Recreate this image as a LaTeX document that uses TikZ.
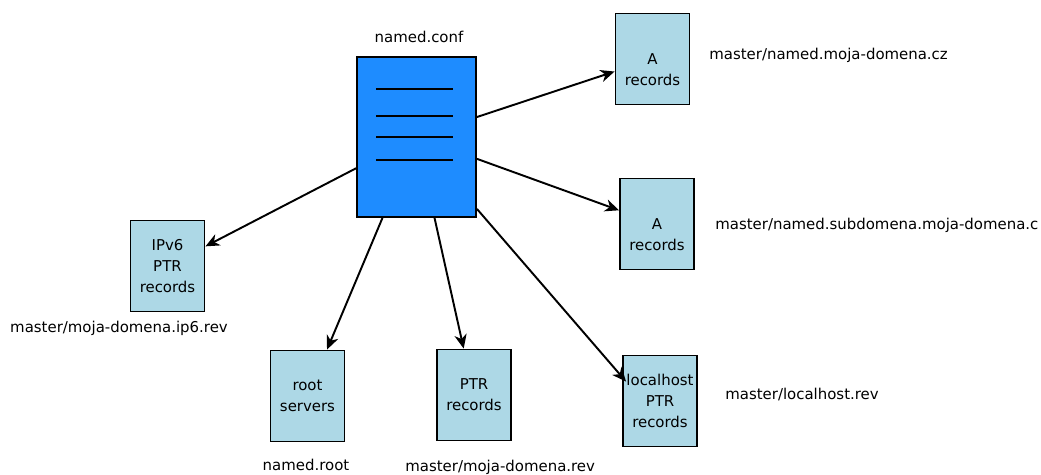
\documentclass[tikz,border=0pt]{standalone}
\usepackage{fontspec}
\setmainfont{DejaVu Sans}
\usetikzlibrary{arrows.meta}
\definecolor{confblue}{HTML}{1E8CFF}
\definecolor{recblue}{HTML}{ADD8E6}
\tikzset{
  zone/.style={draw,line width=1.1pt,fill=recblue,minimum width=1.48cm,minimum height=1.82cm,
    inner sep=0pt,align=center,font=\fontsize{8.5}{12}\selectfont},
  fname/.style={font=\fontsize{8.5}{10}\selectfont,inner sep=0pt},
  ref/.style={line width=1.1pt,-{Stealth[length=8pt,width=7pt,inset=2.5pt]}}
}
\begin{document}
\begin{tikzpicture}[x=0.02cm,y=-0.02cm]
  \useasboundingbox (0,0) rectangle (1041,475);
  % main configuration file
  \node[draw,line width=1.1pt,fill=confblue,minimum width=2.38cm,minimum height=3.2cm,inner sep=0pt] (conf) at (416.5,137) {};
  \foreach \y in {89,116,137,160}
    \draw[line width=1.2pt] (376,\y) -- (453,\y);
  \node[fname] (conflbl) at (419,37) {named.conf};
  % zone files
  \node[zone] (arec) at (652.5,59) {\rule{0pt}{6.7pt}\\A\\records};
  \node[zone] (subrec) at (657,224) {\rule{0pt}{6.7pt}\\A\\records};
  \node[zone] (ipsix) at (167.5,266) {IPv6\\PTR\\records};
  \node[zone] (root) at (307.5,396) {root\\servers};
  \node[zone] (ptr) at (474,395) {PTR\\records};
  \node[zone] (loc) at (660,401) {localhost\\PTR\\records};
  % file names
  \node[fname,anchor=west] (arecf) at (709,55) {master/named.moja-domena.cz};
  \node[fname,anchor=west] (subrecf) at (715,225) {master/named.subdomena.moja-domena.c};
  \node[fname] (ipsixf) at (119,328) {master/moja-domena.ip6.rev};
  \node[fname] (rootf) at (306,465) {named.root};
  \node[fname,anchor=west] (ptrf) at (405,467) {master/moja-domena.rev};
  \node[fname,anchor=west] (locf) at (725,395) {master/localhost.rev};
  % references
  \draw[ref] (conf) -- (arec);
  \draw[ref] (conf) -- (subrec);
  \draw[ref] (conf) -- (ipsix);
  \draw[ref] (conf) -- (root);
  \draw[ref] (conf) -- (ptr);
  \coordinate (loctip) at ([shift={(4,27)}]loc.north west);
  \draw[ref] ([shift={(0,-9)}]conf.south east) -- (loctip);
\end{tikzpicture}
\end{document}
